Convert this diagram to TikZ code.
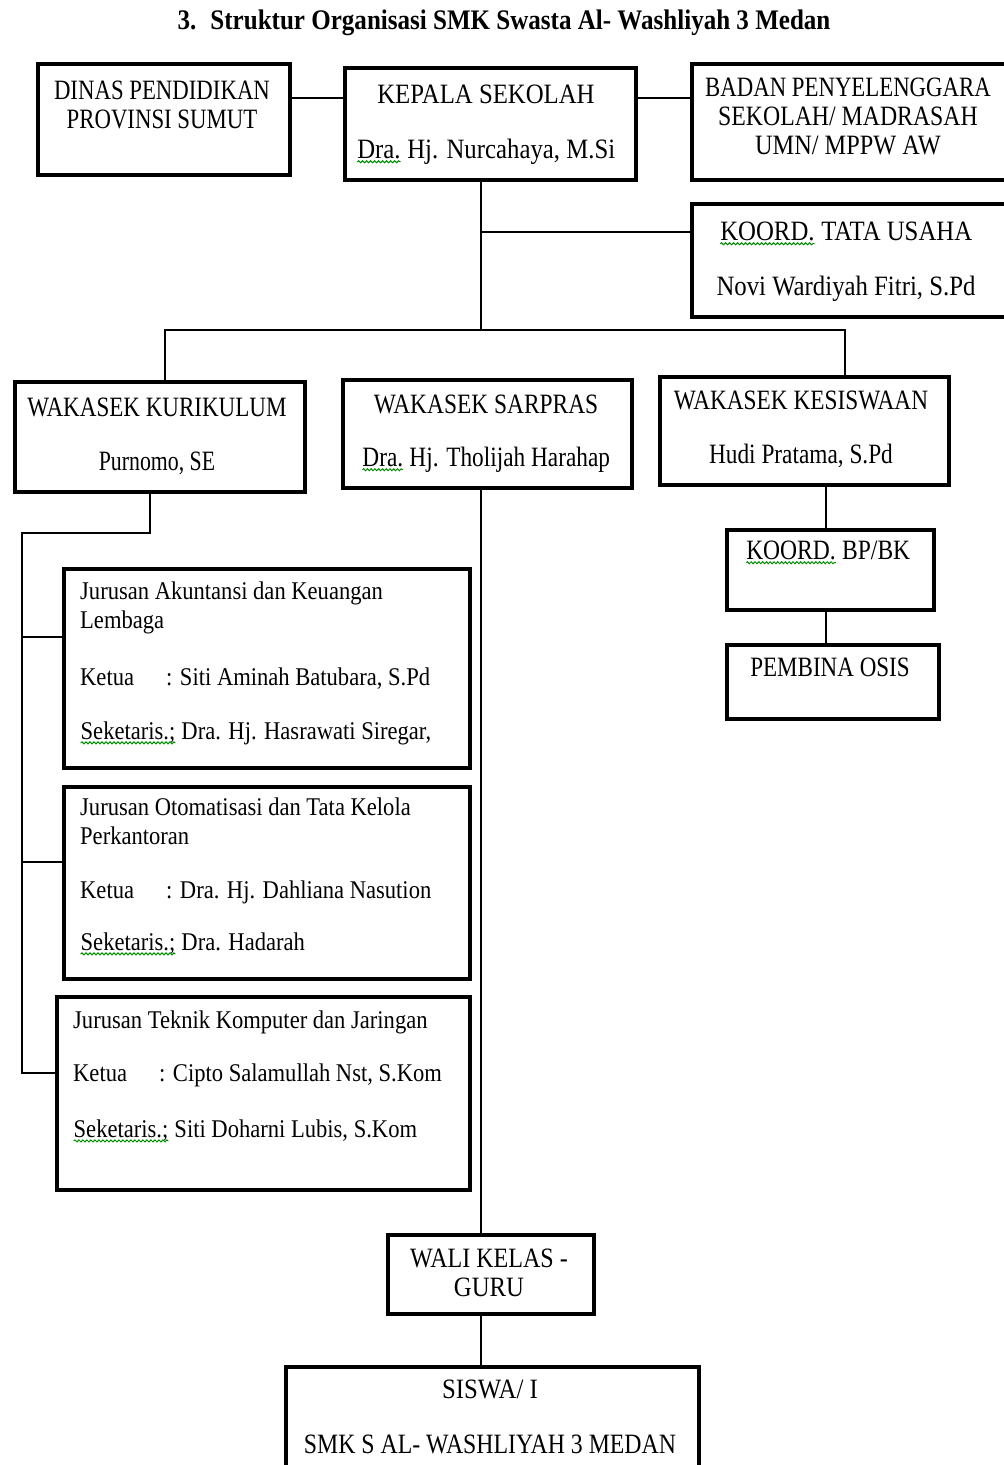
\documentclass[tikz,border=0pt]{standalone}
\usepackage{fontspec}
\setmainfont[FakeStretch=0.885]{Liberation Serif}
\usetikzlibrary{decorations.pathmorphing,calc}
\newcommand{\wv}[1]{\tikz[baseline=(w.base)]{\node[inner sep=0pt,outer sep=0pt,anchor=base](w){#1};\draw[green!55!black,line width=1pt,decorate,decoration={snake,amplitude=1pt,segment length=4pt}]([yshift=-3pt]w.base west)--([yshift=-3pt]w.base east);}}
\newcommand{\ket}{\makebox[86pt][l]{Ketua}: }
\newcommand{\cn}[2][0.93]{\scalebox{#1}[1]{#2}}
\begin{document}
\begin{tikzpicture}[x=1pt,y=-1pt,
 box/.style={draw,line width=3.8pt,inner sep=0pt,anchor=north west},
 hd/.style={font=\fontsize{28}{29}\selectfont,align=center,anchor=north,inner sep=0pt},
 jt/.style={font=\fontsize{25.5}{29}\selectfont,align=left,anchor=north west,inner sep=0pt},
 ln/.style={line width=2pt}]
\useasboundingbox (0,0) rectangle (1004,1465);
\clip (0,0) rectangle (1004,1465);
% title
\node[font=\bfseries\fontsize{28.3}{30}\selectfont,anchor=north,inner sep=0pt] (title) at (504,10) {3.\enspace Struktur Organisasi SMK Swasta Al- Washliyah 3 Medan};
% boxes
\node[box,minimum width=252,minimum height=111] (dinas) at (36,62) {};
\node[box,minimum width=291,minimum height=112] (kepala) at (343,66) {};
\node[box,minimum width=330,minimum height=116] (badan) at (690,62) {};
\node[box,minimum width=330,minimum height=113] (tu) at (690,202) {};
\node[box,minimum width=290,minimum height=110] (kur) at (13,380) {};
\node[box,minimum width=289,minimum height=108] (sar) at (341,378) {};
\node[box,minimum width=289,minimum height=108] (kes) at (658,375) {};
\node[box,minimum width=207,minimum height=80] (bpbk) at (725,528) {};
\node[box,minimum width=212,minimum height=74] (osis) at (725,643) {};
\node[box,minimum width=406,minimum height=199] (j1) at (62,567) {};
\node[box,minimum width=406,minimum height=192] (j2) at (62,785) {};
\node[box,minimum width=413,minimum height=193] (j3) at (55,995) {};
\node[box,minimum width=206,minimum height=79] (wali) at (386,1233) {};
\node[box,minimum width=413,minimum height=120] (siswa) at (284,1365) {};
% texts
\node[hd] (dinas-t) at (162,81) {\cn[0.92]{DINAS PENDIDIKAN}\\\cn[0.92]{PROVINSI SUMUT}};
\node[hd] (kepala-t) at (486,85) {KEPALA SEKOLAH\\[26pt]\wv{Dra.} Hj. Nurcahaya, M.Si};
\node[hd] (badan-t) at (848,78) {\cn[0.92]{BADAN PENYELENGGARA}\\\cn[0.96]{SEKOLAH/ MADRASAH}\\\cn[0.98]{UMN/ MPPW AW}};
\node[hd] (tu-t) at (846,222) {\wv{KOORD.} TATA USAHA\\[26pt]Novi Wardiyah Fitri, S.Pd};
\node[hd] (kur-t) at (157,398) {\cn[0.93]{WAKASEK KURIKULUM}\\[25pt]\cn[0.88]{Purnomo, SE}};
\node[hd] (sar-t) at (486,395) {\cn[0.945]{WAKASEK SARPRAS}\\[24pt]\cn[0.94]{\wv{Dra.} Hj. Tholijah Harahap}};
\node[hd] (kes-t) at (801,391) {\cn[0.94]{WAKASEK KESISWAAN}\\[25pt]\cn[0.94]{Hudi Pratama, S.Pd}};
\node[hd] (bpbk-t) at (828,541) {\cn[0.95]{\wv{KOORD.} BP/BK}};
\node[hd] (osis-t) at (830,658) {\cn[0.93]{PEMBINA OSIS}};
\node[hd] (wali-t) at (489,1249) {\cn[0.97]{WALI KELAS -}\\GURU};
\node[hd] (siswa-t) at (490,1380) {SISWA/ I\\[26pt]\cn[0.96]{SMK S AL- WASHLIYAH 3 MEDAN}};
\node[jt] (j1-t) at (80,582) {Jurusan Akuntansi dan Keuangan\\Lembaga\\[28pt]\ket Siti Aminah Batubara, S.Pd\\[25pt]\wv{Seketaris.;} Dra. Hj. Hasrawati Siregar,};
\node[jt] (j2-t) at (80,798) {Jurusan Otomatisasi dan Tata Kelola\\Perkantoran\\[25pt]\ket Dra. Hj. Dahliana Nasution\\[23pt]\wv{Seketaris.;} Dra. Hadarah};
\node[jt] (j3-t) at (73,1011) {Jurusan Teknik Komputer dan Jaringan\\[24pt]\ket Cipto Salamullah Nst, S.Kom\\[27pt]\wv{Seketaris.;} Siti Doharni Lubis, S.Kom};
% connectors
\coordinate (yt) at (0,98);
\draw[ln] (dinas.east |- yt) -- (kepala.west |- yt);
\draw[ln] (kepala.east |- yt) -- (badan.west |- yt);
\coordinate (tr) at (481,232);
\coordinate (hb) at (481,330);
\draw[ln] (kepala.south -| tr) -- (hb);
\draw[ln] (tr) -- (tu.west |- tr);
\coordinate (hl) at (165,330);
\coordinate (hr) at (845,330);
\draw[ln] (kur.north -| hl) -- (hl) -- (hr) -- (kes.north -| hr);
\coordinate (k1) at (150,533);
\coordinate (k2) at (22,533);
\coordinate (k3) at (22,1073);
\coordinate (b1) at (22,637);
\coordinate (b2) at (22,862);
\draw[ln] (kur.south -| k1) -- (k1) -- (k2) -- (k3) -- (j3.west |- k3);
\draw[ln] (b1) -- (j1.west |- b1);
\draw[ln] (b2) -- (j2.west |- b2);
\coordinate (sx) at (481,0);
\draw[ln] (sar.south -| sx) -- (wali.north -| sx);
\draw[ln] (wali.south -| sx) -- (siswa.north -| sx);
\coordinate (kx) at (826,0);
\draw[ln] (kes.south -| kx) -- (bpbk.north -| kx);
\draw[ln] (bpbk.south -| kx) -- (osis.north -| kx);
\end{tikzpicture}
\end{document}
